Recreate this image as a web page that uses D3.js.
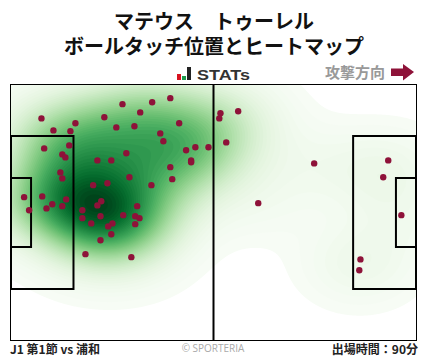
<!DOCTYPE html>
<html><head><meta charset="utf-8">
<script src="https://cdn.jsdelivr.net/npm/d3@7"></script>
<style>
html,body{margin:0;padding:0;background:#fff}
svg{display:block}
text{font-family:"Noto Sans CJK JP","Noto Sans",sans-serif}
</style></head><body><svg id="c" width="428" height="359"></svg>
<script>
const titleLines = ["マテウス　トゥーレル", "ボールタッチ位置とヒートマップ"];
const touchX = [7.9,11.0,15.4,16.7,24.2,28.9,33.5,36.6,41.3,43.6,27.3,32.0,38.7,39.5,45.4,47.8,51.2,46.7,46.7,8.6,15.1,13.3,14.1,22.4,26.0,29.9,41.3,41.8,30.7,12.8,13.3,21.3,25.0,36.4,3.4,8.1,14.3,10.7,9.2,13.3,4.7,18.5,23.4,22.4,32.7,23.2,18.5,29.1,32.2,33.3,20.8,26.3,25.2,32.2,26.0,23.2,19.3,31.2,54.3,54.0,58.9,55.8,78.6,64.1,97.8,96.5,101.2,90.6,90.3];
const touchY = [8.9,12.1,12.3,10.2,8.6,5.1,7.3,4.6,3.5,10.2,11.3,11.0,12.9,15.0,17.4,16.6,16.6,20.1,20.6,16.9,16.1,18.5,19.3,20.1,20.1,18.2,21.9,25.1,24.6,23.3,24.9,26.7,26.2,26.7,29.9,29.7,30.5,31.8,32.9,32.3,33.4,33.4,31.0,32.1,32.3,35.0,35.5,34.7,35.0,35.5,36.9,36.9,37.7,37.1,39.8,41.4,45.1,45.9,7.5,8.9,7.0,15.3,20.9,31.5,20.1,24.6,34.7,46.5,49.4];
const pitchLines = [[52.5,0,52.5,68]];
const boxes = [[0,13.6,16.2,54.4],[0,24.8,5.2,43.2],[88.7,13.6,105,54.4],[99.8,24.8,105,43.2]];
const bandwidthX = 10.5, bandwidthY = 7.6;
const levelCount = 56, lowestLevel = 0.022;

const P = {l:11,r:416,t:85,b:340};
const x = d3.scaleLinear().domain([0,105]).range([P.l,P.r]);
const y = d3.scaleLinear().domain([0,68]).range([P.t,P.b]);
const svg = d3.select("#c");
const W = P.r-P.l, H = P.b-P.t;

const grid = new Float64Array(W*H);
for(let j=0;j<H;j++){const my=y.invert(P.t+j+.5);
  for(let i=0;i<W;i++){const mx=x.invert(P.l+i+.5);let s=0;
    for(let k=0;k<touchX.length;k++){
      const dx=(mx-touchX[k])/bandwidthX, dy=(my-touchY[k])/bandwidthY;
      s+=Math.exp(-.5*(dx*dx+dy*dy));
    }
    grid[j*W+i]=s;
  }}
const peak=d3.max(grid);
const th=d3.range(levelCount).map(i=>peak*(lowestLevel+(1-lowestLevel)*i/levelCount));
const col=t=>d3.interpolateGreens(Math.pow(t,1.12));
const contours=d3.contours().size([W,H]).thresholds(th)(grid);
svg.append("defs").append("clipPath").attr("id","pc").append("rect").attr("x",P.l).attr("y",P.t).attr("width",W).attr("height",H);
const path=d3.geoPath(d3.geoIdentity().translate([P.l,P.t]));
svg.append("g").attr("clip-path","url(#pc)").selectAll("path").data(contours).join("path")
  .attr("d",path).attr("fill",(d,i)=>col(i/(levelCount-1)));

const g=svg.append("g").attr("fill","none").attr("stroke","#000");
g.selectAll("path.b").data(boxes).join("rect")
  .attr("x",d=>x(d[0])).attr("y",d=>y(d[1])).attr("width",d=>x(d[2])-x(d[0])).attr("height",d=>y(d[3])-y(d[1])).attr("stroke-width",2);
g.selectAll("line").data(pitchLines).join("line").attr("x1",d=>x(d[0])).attr("y1",d=>y(d[1])).attr("x2",d=>x(d[2])).attr("y2",d=>y(d[3])).attr("stroke-width",2);
g.append("rect").attr("x",P.l-.5).attr("y",P.t-.5).attr("width",W+1).attr("height",H+1).attr("stroke-width",1);

svg.append("g").selectAll("circle").data(touchX).join("circle")
  .attr("cx",d=>x(d)).attr("cy",(d,i)=>y(touchY[i])).attr("r",3.2).attr("fill","#8e1239");

svg.selectAll("text.t").data(titleLines).join("text").attr("class","t")
  .attr("x",214).attr("y",(d,i)=>29+i*25).attr("text-anchor","middle")
  .attr("font-size",20).attr("font-weight",700).attr("fill","#111").text(d=>d);

const logoBars=[[177,74,4,6,"#d8121f"],[182,76,4,4,"#1c9a4b"],[187,67,4,13,"#222"]];
svg.selectAll("rect.l").data(logoBars).join("rect").attr("class","l")
  .attr("x",d=>d[0]).attr("y",d=>d[1]).attr("width",d=>d[2]).attr("height",d=>d[3]).attr("fill",d=>d[4]);
svg.append("text").attr("x",197).attr("y",79.5).attr("font-size",15.5).attr("font-weight",700).attr("fill","#333")
  .attr("textLength",53).attr("lengthAdjust","spacingAndGlyphs").style("font-family","'Liberation Sans'").text("STATs");

svg.append("text").attr("x",385).attr("y",78).attr("text-anchor","end").attr("font-size",15).attr("font-weight",700).attr("fill","#999").text("攻撃方向");
svg.append("path").attr("d","M391 68.5H403V64L414 72L403 80.5V76H391Z").attr("fill","#8e1239");

svg.append("text").attr("x",10).attr("y",354).attr("font-size",12).attr("font-weight",700).attr("fill","#222").text("J1 第1節 vs 浦和");
svg.append("text").attr("x",213).attr("y",352).attr("text-anchor","middle").attr("font-size",10).attr("fill","#aaa").style("font-family","'Open Sans'").text("© SPORTERIA");
svg.append("text").attr("x",418).attr("y",354).attr("text-anchor","end").attr("font-size",12).attr("font-weight",700).attr("fill","#222").text("出場時間：90分");
</script></body></html>
